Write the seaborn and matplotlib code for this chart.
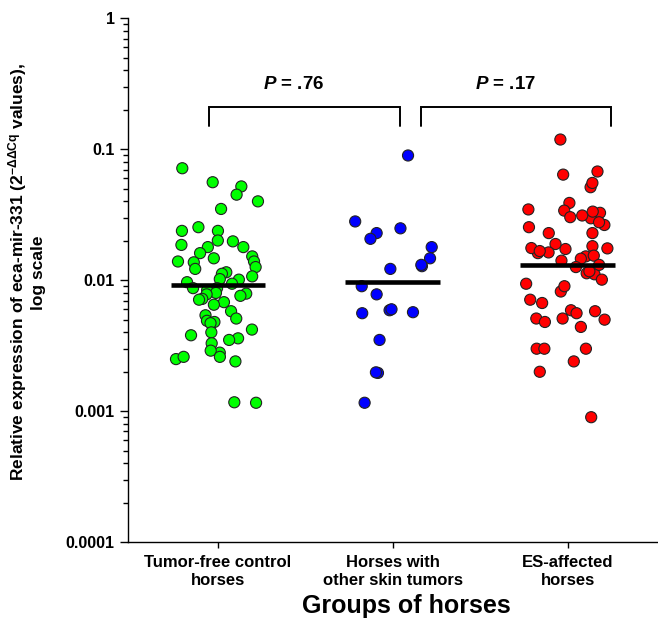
import numpy as np
import pandas as pd
import matplotlib
matplotlib.use('Agg')
import matplotlib.pyplot as plt
import seaborn as sns
from matplotlib.ticker import FixedLocator, LogLocator, NullFormatter

## data
groups = ['Tumor-free control\nhorses', 'Horses with\nother skin tumors', 'ES-affected\nhorses']
colors = ['#00FF00', '#0000FF', '#FF0000']

tumor_free = [0.0716, 0.052, 0.056, 0.045, 0.040, 0.035, 0.0238, 0.0238, 0.0254, 0.0201,
              0.0198, 0.0179, 0.0179, 0.0186, 0.0161, 0.0152, 0.0137, 0.0147, 0.0139, 0.0139,
              0.0115, 0.0126, 0.0122, 0.0112, 0.0107, 0.00966, 0.0102, 0.0101, 0.0094, 0.0083,
              0.0087, 0.0087, 0.0084, 0.0080, 0.0078, 0.0079, 0.0076, 0.0072, 0.0068, 0.0071,
              0.0065, 0.0054, 0.0058, 0.0049, 0.0048, 0.0051, 0.0047, 0.0042, 0.0038, 0.0036,
              0.0040, 0.0033, 0.0035, 0.0028, 0.0029, 0.0025, 0.0026, 0.0024, 0.0026, 0.00117,
              0.00116]
other_tumors = [0.0896, 0.0281, 0.0229, 0.0249, 0.0207, 0.0179, 0.0147, 0.0128, 0.0122, 0.0131,
                0.0090, 0.0078, 0.0059, 0.0057, 0.0060, 0.0056, 0.0035, 0.00196, 0.00198, 0.00116]
es_affected = [0.1186, 0.064, 0.0513, 0.0553, 0.0389, 0.034, 0.0297, 0.0327, 0.0312, 0.0334,
               0.0264, 0.0254, 0.0277, 0.0229, 0.0173, 0.0182, 0.0152, 0.0161, 0.0146, 0.0176,
               0.0189, 0.0154, 0.0141, 0.0126, 0.0113, 0.0111, 0.0117, 0.0094, 0.0082, 0.0090,
               0.0071, 0.0059, 0.0056, 0.0058, 0.0050, 0.0051, 0.0048, 0.0044, 0.0030, 0.0030,
               0.0024, 0.0020, 0.0009, 0.0676, 0.0347, 0.0303, 0.0229, 0.0175, 0.0163, 0.0167,
               0.0131, 0.0101, 0.0067, 0.0051, 0.0030]
medians = [0.0092, 0.0097, 0.013]

y_ticks = [0.0001, 0.001, 0.01, 0.1, 1]
y_tick_labels = ['0.0001', '0.001', '0.01', '0.1', '1']

comparisons = [(0, 1, 'P', ' = .76'), (1, 2, 'P', ' = .17')]

## config
sns.set_theme(style='white')
plt.rcParams['font.family'] = ['Liberation Sans', 'DejaVu Sans']
plt.rcParams['font.weight'] = 'bold'
plt.rcParams['mathtext.fontset'] = 'custom'
plt.rcParams['mathtext.rm'] = 'Liberation Sans:bold'
plt.rcParams['mathtext.it'] = 'Liberation Sans:italic:bold'
plt.rcParams['mathtext.bf'] = 'Liberation Sans:bold'
for key in ['text.color', 'axes.labelcolor', 'xtick.color', 'ytick.color']:
    plt.rcParams[key] = 'black'
np.random.seed(7)

df = pd.DataFrame({
    'group': [groups[0]] * len(tumor_free) + [groups[1]] * len(other_tumors) + [groups[2]] * len(es_affected),
    'value': tumor_free + other_tumors + es_affected,
})

fig = plt.figure(figsize=(6.58, 6.29), dpi=100)
ax = fig.add_axes([0.1945, 0.138, 0.8035, 0.833])

sns.stripplot(data=df, x='group', y='value', hue='group', order=groups, hue_order=groups,
              palette=colors, jitter=0.24, size=8, linewidth=0.8, edgecolor='#222222',
              legend=False, ax=ax, zorder=3)

ax.set_yscale('log')
ax.set_ylim(1e-4, 1)
ax.set_xlim(-0.514, 2.51)

# median bars
for i, m in enumerate(medians):
    ax.hlines(m, i - 0.27, i + 0.27, color='black', lw=3.3, zorder=5)

# brackets with p values
bracket_x = {0: -0.05, 1: (1.04, 1.16), 2: 2.25}
for a, b, p, rest in comparisons:
    x0 = bracket_x[a] if a != 1 else bracket_x[1][1]
    x1 = bracket_x[b] if b != 1 else bracket_x[1][0]
    ax.plot([x0, x0, x1, x1], [0.15, 0.21, 0.21, 0.15], color='black', lw=1.4,
            solid_joinstyle='miter', clip_on=False)
    ax.text((x0 + x1) / 2 - 0.06, 0.31, r'$\mathit{%s}$%s' % (p, rest), ha='center', va='center',
            fontsize=13.5, fontweight='bold', color='black')

ax.yaxis.set_major_locator(FixedLocator(y_ticks))
ax.set_yticklabels(y_tick_labels)
ax.yaxis.set_minor_locator(LogLocator(base=10, subs=np.arange(2, 10)))
ax.yaxis.set_minor_formatter(NullFormatter())

ax.tick_params(axis='y', which='major', direction='out', length=6, width=1, color='black',
               labelsize=11.5, labelcolor='black', left=True)
ax.tick_params(axis='y', which='minor', direction='out', length=3.5, width=1, color='black', left=True)
ax.tick_params(axis='x', which='major', direction='out', length=4, width=1, color='black',
               labelsize=12, labelcolor='black', bottom=True, pad=5)
for lbl in ax.get_xticklabels():
    lbl.set_fontweight('bold')
    lbl.set_linespacing(1.3)
for lbl in ax.get_yticklabels():
    lbl.set_fontweight('bold')

ax.set_ylabel('Relative expression of eca-mir-331 (2$^{\\mathrm{-ΔΔCq}}$ values),\nlog scale',
              fontsize=12.5, fontweight='bold', labelpad=14, color='black')
ax.yaxis.label.set_y(0.515)
ax.set_xlabel('Groups of horses', fontsize=18, fontweight='bold', labelpad=4, color='black')
ax.xaxis.label.set_x(0.527)

sns.despine(ax=ax)
for s in ['left', 'bottom']:
    ax.spines[s].set_color('black')
    ax.spines[s].set_linewidth(1)

fig.savefig('out.png', dpi=100)
